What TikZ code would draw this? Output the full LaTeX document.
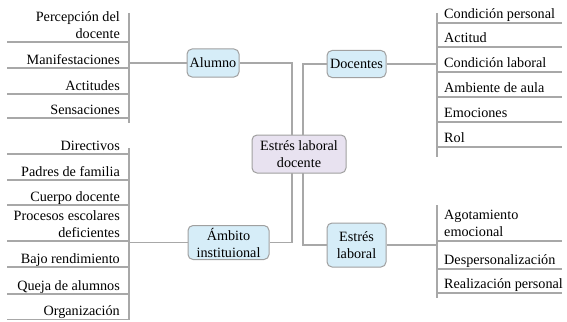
\documentclass[tikz,border=0pt]{standalone}
\usepackage{fontspec}
\setmainfont{Liberation Serif}
\definecolor{linegray}{HTML}{A8A8A8}
\definecolor{boxgray}{HTML}{A0A0A0}
\definecolor{topicblue}{HTML}{D6EDF8}
\definecolor{centerlav}{HTML}{E8E2F0}
\begin{document}
\begin{tikzpicture}[x=1pt,y={(0pt,-1pt)},
  every node/.style={font=\fontsize{14.2}{17}\selectfont, inner sep=0pt},
  conn/.style={draw=linegray, line width=1.2pt},
  topic/.style={draw=boxgray, line width=1pt, fill=topicblue, rounded corners=5pt, align=center},
  central/.style={topic, fill=centerlav},
  leafl/.style={anchor=base east, align=right},
  leafr/.style={anchor=base west, align=left}
]
\useasboundingbox (0,0) rectangle (567,321);

% central and topic nodes
\node[central, minimum width=94pt, minimum height=38pt] (c) at (299,154) {Estrés laboral\\docente};
\node[topic, minimum width=52pt, minimum height=28pt] (al) at (213,63) {Alumno};
\node[topic, minimum width=59pt, minimum height=27pt] (do) at (356.5,64) {Docentes};
\node[topic, minimum width=81pt, minimum height=34pt] (am) at (228.5,242.5) {Ámbito\\instituional};
\node[topic, minimum width=59pt, minimum height=44pt] (es) at (356.5,245) {Estrés\\laboral};

% spines
\coordinate (sal1) at (129,13);  \coordinate (sal2) at (129,123);
\coordinate (sam1) at (129,148); \coordinate (sam2) at (129,320);
\coordinate (sdo1) at (437,13);  \coordinate (sdo2) at (437,157);
\coordinate (ses1) at (437,205); \coordinate (ses2) at (437,298);
\draw[conn] (sal1) -- (sal2);
\draw[conn] (sam1) -- (sam2);
\draw[conn] (sdo1) -- (sdo2);
\draw[conn] (ses1) -- (ses2);

% connectors centre - topics
\draw[conn] (al.east) -- (292,63) -- (292,135);
\draw[conn] (do.west) -- (303,64) -- (303,135);
\draw[conn] (292,173) -- (292,242.5) -- (am.east);
\draw[conn] (303,173) -- (303,245) -- (es.west);
% connectors topics - spines
\draw[conn] (al.west) -- (129,63);
\draw[conn] (do.east) -- (437,64);
\draw[conn] (am.west) -- (129,242.5);
\draw[conn] (es.east) -- (437,245);

% left top leaves (Alumno)
\node[leafl] (l1) at (120,38) {Percepción del\\docente};
\draw[conn] (7,42) -- (129,42);
\node[leafl] (l2) at (120,64) {Manifestaciones};
\draw[conn] (7,68) -- (129,68);
\node[leafl] (l3) at (120,90) {Actitudes};
\draw[conn] (7,94) -- (129,94);
\node[leafl] (l4) at (120,114) {Sensaciones};
\draw[conn] (7,118) -- (129,118);

% left bottom leaves (Ambito)
\node[leafl] (m1) at (120,150) {Directivos};
\draw[conn] (7,154) -- (129,154);
\node[leafl] (m2) at (120,176) {Padres de familia};
\draw[conn] (7,180) -- (129,180);
\node[leafl] (m3) at (120,201) {Cuerpo docente};
\draw[conn] (7,205) -- (129,205);
\node[leafl] (m4) at (120,237) {Procesos escolares\\deficientes};
\draw[conn] (7,241) -- (129,241);
\node[leafl] (m5) at (120,263) {Bajo rendimiento};
\draw[conn] (7,267) -- (129,267);
\node[leafl] (m6) at (120,290) {Queja de alumnos};
\draw[conn] (7,294) -- (129,294);
\node[leafl] (m7) at (120,315.5) {Organización};
\draw[conn] (7,319.5) -- (129,319.5);

% right top leaves (Docentes)
\node[leafr] (d1) at (444,18.5) {Condición personal};
\draw[conn] (437,23) -- (562,23);
\node[leafr] (d2) at (444,42.5) {Actitud};
\draw[conn] (437,47) -- (562,47);
\node[leafr] (d3) at (444,67.5) {Condición laboral};
\draw[conn] (437,72) -- (562,72);
\node[leafr] (d4) at (444,92.5) {Ambiente de aula};
\draw[conn] (437,97) -- (562,97);
\node[leafr] (d5) at (444,117.5) {Emociones};
\draw[conn] (437,122) -- (562,122);
\node[leafr] (d6) at (444,142.5) {Rol};
\draw[conn] (437,147) -- (562,147);

% right bottom leaves (Estres laboral)
\node[leafr] (e1) at (444,236.5) {Agotamiento\\emocional};
\draw[conn] (437,241) -- (562,241);
\node[leafr] (e2) at (444,264.5) {Despersonalización};
\draw[conn] (437,269) -- (562,269);
\node[leafr] (e3) at (444,288.5) {Realización personal};
\draw[conn] (437,293) -- (562,293);
\end{tikzpicture}
\end{document}
